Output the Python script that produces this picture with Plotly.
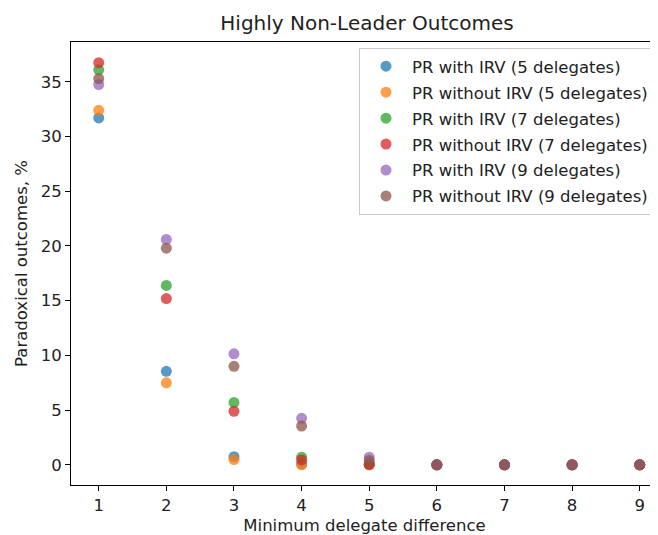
import plotly.graph_objects as go

x_vals = [1, 2, 3, 4, 5, 6, 7, 8, 9]
series_names = [
    "PR with IRV (5 delegates)",
    "PR without IRV (5 delegates)",
    "PR with IRV (7 delegates)",
    "PR without IRV (7 delegates)",
    "PR with IRV (9 delegates)",
    "PR without IRV (9 delegates)",
]
with_irv_5 = [31.7, 8.55, 0.75, 0.1, 0.0, 0.0, 0.0, 0.0, 0.0]
without_irv_5 = [32.4, 7.5, 0.48, 0.0, 0.0, 0.0, 0.0, 0.0, 0.0]
with_irv_7 = [36.1, 16.4, 5.7, 0.7, 0.1, 0.0, 0.0, 0.0, 0.0]
without_irv_7 = [36.75, 15.2, 4.9, 0.45, 0.05, 0.0, 0.0, 0.0, 0.0]
with_irv_9 = [34.75, 20.6, 10.15, 4.25, 0.7, 0.0, 0.0, 0.0, 0.0]
without_irv_9 = [35.3, 19.8, 9.0, 3.55, 0.4, 0.0, 0.0, 0.0, 0.0]
series_values = [with_irv_5, without_irv_5, with_irv_7, without_irv_7, with_irv_9, without_irv_9]
colors = ["#1f77b4", "#ff7f0e", "#2ca02c", "#d62728", "#9467bd", "#8c564b"]

fig = go.Figure()
for i, (name, vals) in enumerate(zip(series_names, series_values)):
    fig.add_trace(go.Scatter(
        x=x_vals, y=vals, mode="markers", name=name, legendgroup=f"g{i}",
        marker=dict(color=colors[i], size=11, opacity=0.75, line=dict(width=0)),
    ))

# the page body adds an 8px offset, so the figure is 8px smaller than the window
W, H = 650, 527
L, R, T, B = 63, 0, 34, 50
pw, ph = W - L - R, H - T - B
font = "DejaVu Sans, Liberation Sans, sans-serif"
fs = 16.5
fig.update_layout(
    width=W, height=H,
    margin=dict(l=L, r=R, t=T, b=B, autoexpand=False),
    plot_bgcolor="white", paper_bgcolor="white",
    font=dict(family=font, size=fs, color="#222"),
    title=dict(text="Highly Non-Leader Outcomes", x=359 / W, xref="container",
               xanchor="center", y=1 - 15 / H, yanchor="middle",
               font=dict(size=20, color="#222")),
    legend=dict(x=(646 - L) / pw, y=(H - B - 40) / ph, xanchor="right", yanchor="top",
                bordercolor="#cccccc", borderwidth=1, bgcolor="white",
                font=dict(size=fs, color="#222"), tracegroupgap=1.5, itemwidth=42),
    xaxis=dict(range=[0.59, 9.27], tickmode="array", tickvals=x_vals, automargin=False,
               showgrid=False, zeroline=False, showline=True, linecolor="black",
               linewidth=1, mirror=True, ticks="outside", ticklen=5, tickcolor="black",
               title=dict(text="Minimum delegate difference", standoff=7, font=dict(size=fs))),
    yaxis=dict(range=[-1.84, 38.64], tickmode="array", tickvals=[0, 5, 10, 15, 20, 25, 30, 35],
               automargin=False,
               showgrid=False, zeroline=False, showline=True, linecolor="black",
               linewidth=1, ticks="outside", ticklen=5, tickcolor="black",
               title=dict(text="Paradoxical outcomes, %", standoff=8, font=dict(size=fs))),
)
fig.write_html("out.html")
